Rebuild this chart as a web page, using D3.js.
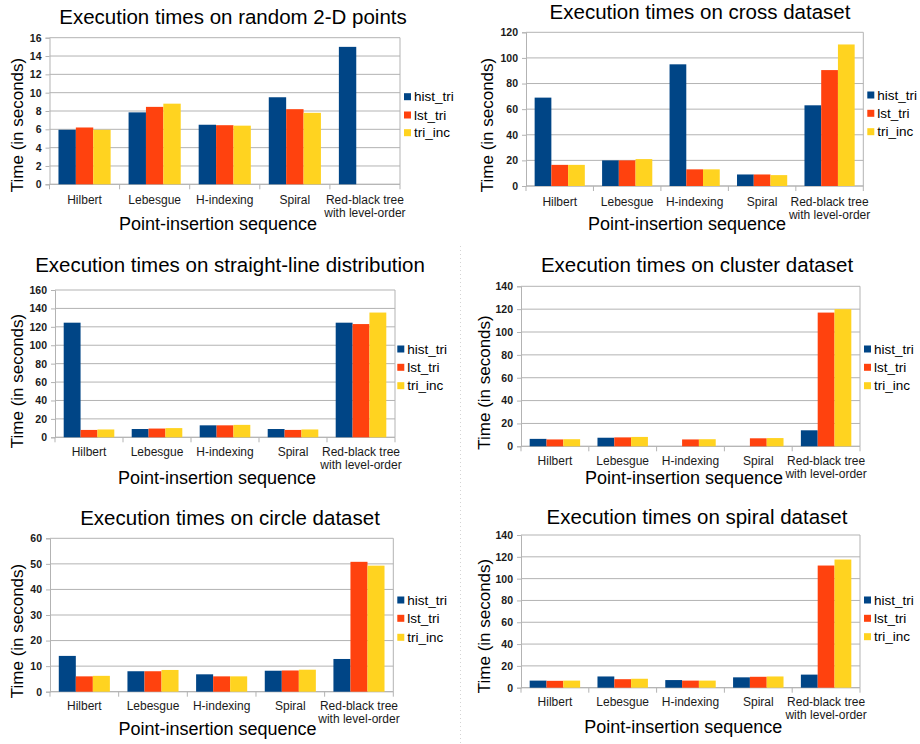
<!DOCTYPE html>
<html>
<head>
<meta charset="utf-8">
<script src="https://cdn.jsdelivr.net/npm/d3@7"></script>
<style>
  html, body { margin: 0; padding: 0; background: #fff; }
  svg { display: block; font-family: "Liberation Sans", Arial, sans-serif; }
</style>
</head>
<body>
<svg id="chart" width="920" height="744"></svg>
<script>
// Point-insertion sequences (x categories), each with an optional second label line
const categories = ["Hilbert", "Lebesgue", "H-indexing", "Spiral", "Red-black tree"];
const categoryLines = [["Hilbert"], ["Lebesgue"], ["H-indexing"], ["Spiral"], ["Red-black tree", "with level-order"]];
const seriesNames = ["hist_tri", "lst_tri", "tri_inc"];
const seriesColors = ["#004586", "#ff420e", "#ffd320"];

// Execution times in seconds (null = no bar)
const randomHist = [5.95, 7.85, 6.5, 9.5, 15.0];
const randomLst  = [6.2, 8.45, 6.45, 8.2, null];
const randomInc  = [5.95, 8.8, 6.4, 7.8, null];

const crossHist = [69, 20, 95, 9, 63];
const crossLst  = [16.5, 20, 13, 9, 90.5];
const crossInc  = [16.5, 21, 13, 8.5, 110.5];

const lineHist = [124.5, 9, 13, 9, 124.5];
const lineLst  = [8, 9.5, 13, 8, 123];
const lineInc  = [8.5, 10, 13.5, 8.5, 135.5];

const clusterHist = [6.5, 7.5, null, null, 14];
const clusterLst  = [6, 7.8, 6, 7, 117];
const clusterInc  = [6.2, 8.2, 6.2, 7.2, 120];

const circleHist = [14, 8, 6.8, 8.2, 12.8];
const circleLst  = [6, 8, 6, 8.3, 50.8];
const circleInc  = [6.2, 8.5, 6, 8.6, 49.3];

const spiralHist = [6.5, 10.3, 7, 9.5, 12];
const spiralLst  = [6.3, 7.8, 6.5, 10, 112];
const spiralInc  = [6.5, 8.2, 6.5, 10.3, 117.5];

// Axis extents and tick steps per chart
const yMaxima = [16, 120, 160, 140, 60, 140];
const yTickSteps = [2, 20, 20, 20, 10, 20];

const titles = [
  "Execution times on random 2-D points",
  "Execution times on cross dataset",
  "Execution times on straight-line distribution",
  "Execution times on cluster dataset",
  "Execution times on circle dataset",
  "Execution times on spiral dataset"
];
const xTitle = "Point-insertion sequence";
const yTitle = "Time  (in  seconds)";

const datasets = [
  [randomHist, randomLst, randomInc],
  [crossHist, crossLst, crossInc],
  [lineHist, lineLst, lineInc],
  [clusterHist, clusterLst, clusterInc],
  [circleHist, circleLst, circleInc],
  [spiralHist, spiralLst, spiralInc]
];

// Page layout of each chart panel
const layouts = [
  { l: 49.5, r: 400, t: 37.7, b: 184.3, titleX: 233, titleY: 24, yLabX: 17, yLabY: 125, xLabX: 218, xLabY: 230, cat1: 204, cat2: 217, legX: 404, legY: [96.7, 115, 132.7] },
  { l: 526, r: 863.3, t: 32.3, b: 186, titleX: 700, titleY: 19, yLabX: 487, yLabY: 125, xLabX: 687, xLabY: 230, cat1: 206, cat2: 219, legX: 867.3, legY: [95, 113.3, 131.7] },
  { l: 55, r: 395, t: 290, b: 437.3, titleX: 230, titleY: 272, yLabX: 17, yLabY: 381, xLabX: 217, xLabY: 484, cat1: 456, cat2: 469, legX: 397.3, legY: [349, 367.3, 385.7] },
  { l: 521, r: 860, t: 286.3, b: 446.3, titleX: 697, titleY: 272, yLabX: 484, yLabY: 382.5, xLabX: 684, xLabY: 484, cat1: 465, cat2: 478, legX: 864, legY: [349, 367.3, 385.7] },
  { l: 50, r: 393.3, t: 538.3, b: 691.7, titleX: 230, titleY: 525, yLabX: 17, yLabY: 631, xLabX: 217.5, xLabY: 735, cat1: 710, cat2: 723, legX: 397.3, legY: [600, 618.3, 637.3] },
  { l: 521, r: 860, t: 535, b: 687.7, titleX: 697, titleY: 524, yLabX: 484, yLabY: 626, xLabX: 683.3, xLabY: 733, cat1: 706, cat2: 719, legX: 864, legY: [600, 618.3, 636.7] }
];

const svg = d3.select("#chart");
const gridColor = "#b3b3b3";

// Faint dotted separator down the left edge of the right-hand column
svg.append("line").attr("x1", 460.5).attr("x2", 460.5).attr("y1", 246).attr("y2", 744)
  .attr("stroke", "#d4d4d4").attr("stroke-width", 1).attr("stroke-dasharray", "1,3");

function drawPanel(i) {
  const L = layouts[i];
  const series = datasets[i];
  const g = svg.append("g").attr("class", "panel");

  const x = d3.scaleBand().domain(categories).range([L.l, L.r]).padding(0);
  const inner = d3.scaleBand().domain(seriesNames)
    .range([x.bandwidth() * 0.128, x.bandwidth() * 0.872]).padding(0);
  const y = d3.scaleLinear().domain([0, yMaxima[i]]).range([L.b, L.t]);
  const ticks = d3.range(0, yMaxima[i] + yTickSteps[i] / 2, yTickSteps[i]);

  // Horizontal gridlines
  g.append("g").selectAll("line").data(ticks).join("line")
    .attr("x1", L.l).attr("x2", L.r)
    .attr("y1", d => y(d)).attr("y2", d => y(d))
    .attr("stroke", gridColor).attr("stroke-width", 1);

  // Y axis with outer ticks
  const yAxis = d3.axisLeft(y).tickValues(ticks).tickSize(4).tickPadding(4).tickFormat(d3.format("d"));
  const ya = g.append("g").attr("transform", `translate(${L.l},0)`).call(yAxis);
  ya.select(".domain").attr("stroke", gridColor);
  ya.selectAll(".tick line").attr("stroke", gridColor);
  ya.selectAll(".tick text").attr("fill", "#1a1a1a")
    .style("font-family", "'Liberation Sans', Arial, sans-serif")
    .style("font-size", "10.5px").style("font-weight", "bold");

  // Right frame edge
  g.append("line").attr("x1", L.r).attr("x2", L.r).attr("y1", L.t).attr("y2", L.b)
    .attr("stroke", gridColor);

  // X axis: ticks at category boundaries
  const bounds = categories.map(c => x(c)).concat([x(categories[categories.length - 1]) + x.bandwidth()]);
  g.append("line").attr("x1", L.l).attr("x2", L.r).attr("y1", L.b).attr("y2", L.b).attr("stroke", gridColor);
  g.append("g").selectAll("line").data(bounds).join("line")
    .attr("x1", d => d).attr("x2", d => d).attr("y1", L.b).attr("y2", L.b + 5)
    .attr("stroke", gridColor);

  // Bars
  series.forEach((vals, s) => {
    g.append("g").selectAll("rect")
      .data(vals.map((v, k) => ({ v, c: categories[k] })).filter(d => d.v != null))
      .join("rect")
      .attr("x", d => x(d.c) + inner(seriesNames[s]))
      .attr("width", inner.bandwidth())
      .attr("y", d => y(d.v))
      .attr("height", d => y(0) - y(d.v))
      .attr("fill", seriesColors[s]);
  });

  // Category labels
  categories.forEach((c, k) => {
    const cx = x(c) + x.bandwidth() / 2;
    categoryLines[k].forEach((line, j) => {
      g.append("text").attr("x", cx).attr("y", j === 0 ? L.cat1 : L.cat2)
        .attr("text-anchor", "middle").attr("font-size", 12).attr("fill", "#1a1a1a")
        .text(line);
    });
  });

  // Titles
  g.append("text").attr("x", L.titleX).attr("y", L.titleY).attr("text-anchor", "middle")
    .attr("font-size", 20.5).attr("fill", "#000").text(titles[i]);
  g.append("text").attr("x", L.xLabX).attr("y", L.xLabY).attr("text-anchor", "middle")
    .attr("font-size", 18).attr("fill", "#000").text(xTitle);
  g.append("text")
    .attr("transform", `translate(${L.yLabX + 6},${L.yLabY}) rotate(-90)`)
    .attr("text-anchor", "middle").attr("font-size", 17).attr("fill", "#000").text(yTitle);

  // Legend
  seriesNames.forEach((name, s) => {
    g.append("rect").attr("x", L.legX).attr("y", L.legY[s] - 3.5).attr("width", 7).attr("height", 7)
      .attr("fill", seriesColors[s]);
    g.append("text").attr("x", L.legX + 10).attr("y", L.legY[s]).attr("dy", "0.35em")
      .attr("font-size", 13.5).attr("fill", "#000").text(name);
  });
}

d3.range(6).forEach(drawPanel);
</script>
</body>
</html>
